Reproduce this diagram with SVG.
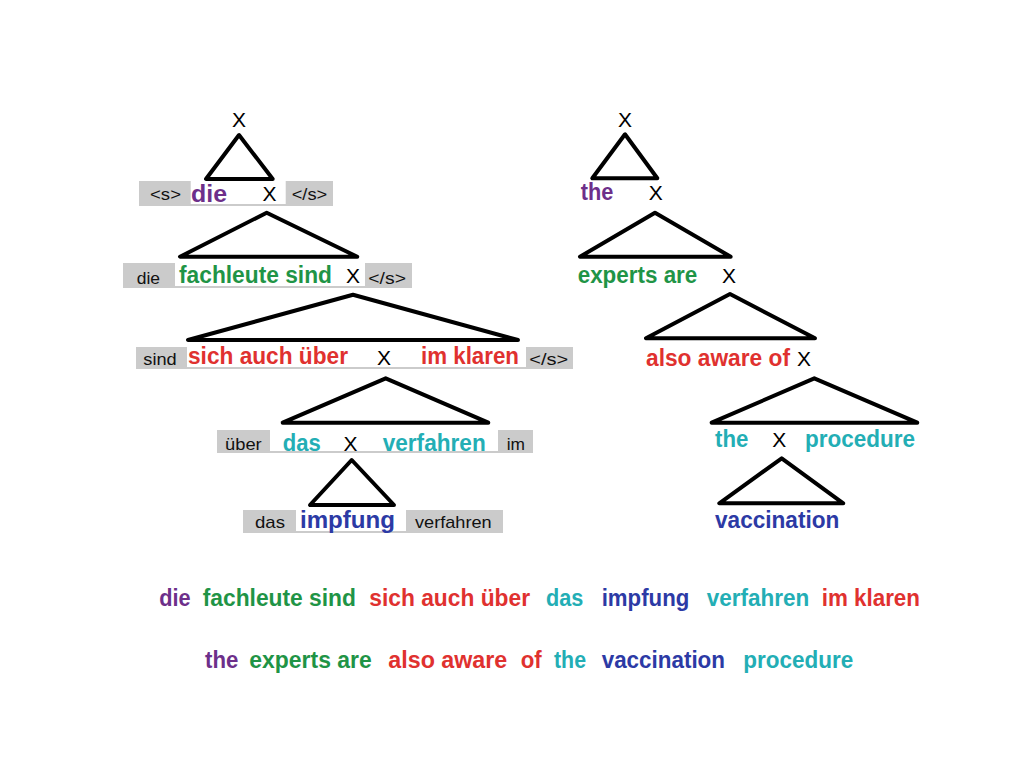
<svg xmlns="http://www.w3.org/2000/svg" width="1024" height="768" viewBox="0 0 1024 768">
<style>
.bg{fill:#ffffff}
.gbox{fill:#cbcbcb}
.wbox{fill:#ffffff}
.tri{fill:none;stroke:#000;stroke-width:4;stroke-linejoin:round;stroke-linecap:round}
.x{font-family:"Liberation Sans",Arial,sans-serif;font-size:21px;fill:#000;text-anchor:middle}
.g{font-family:"Liberation Sans",Arial,sans-serif;font-size:17px;fill:#111}
.b{font-family:"Liberation Sans",Arial,sans-serif;font-size:23px;font-weight:bold}
.pu{fill:#6d2f8a}.gr{fill:#1f9446}.rd{fill:#e0312f}.cy{fill:#23aeb5}.bl{fill:#2c3aa5}
</style>
<rect class="bg" x="0" y="0" width="1024" height="768"/>

<g id="connectors">
<polygon class="tri" points="239,135 206,179 272.7,179"/>
<polygon class="tri" points="266.7,212.7 180,256.7 357.3,256.7"/>
<polygon class="tri" points="353,294.7 188,340 518,340"/>
<polygon class="tri" points="385.7,378.3 282.7,422.7 488.3,422.7"/>
<polygon class="tri" points="351.7,460 310,505 394,505"/>
<polygon class="tri" points="625,134.3 592.3,178.3 657.3,178.3"/>
<polygon class="tri" points="655,212.7 580,256.7 730.7,256.7"/>
<polygon class="tri" points="730,294 646,338.3 815,338.3"/>
<polygon class="tri" points="814.3,378.3 711.7,422.7 917.3,422.7"/>
<polygon class="tri" points="781.7,458.3 719.3,503.3 843.3,503.3"/>
</g>

<g id="left-root">
<text class="x" x="239" y="127">X</text>
</g>

<g id="left-level1">
<rect class="gbox" x="139" y="181" width="194" height="25"/>
<rect class="wbox" x="190.7" y="181" width="95" height="23"/>
<text class="g" x="150" y="200" textLength="31" lengthAdjust="spacingAndGlyphs">&lt;s&gt;</text>
<text class="b pu" x="191" y="201.5" textLength="36" lengthAdjust="spacingAndGlyphs">die</text>
<text class="x" x="269.5" y="201">X</text>
<text class="g" x="291.7" y="200" textLength="35.6" lengthAdjust="spacingAndGlyphs">&lt;/s&gt;</text>
</g>

<g id="left-level2">
<rect class="gbox" x="123" y="263" width="289" height="25"/>
<rect class="wbox" x="175" y="263" width="190" height="23"/>
<text class="g" x="136.7" y="284" textLength="23.3" lengthAdjust="spacingAndGlyphs">die</text>
<text class="b gr" x="179" y="283" textLength="153" lengthAdjust="spacingAndGlyphs">fachleute sind</text>
<text class="x" x="353" y="283">X</text>
<text class="g" x="368.3" y="284" textLength="37.7" lengthAdjust="spacingAndGlyphs">&lt;/s&gt;</text>
</g>

<g id="left-level3">
<rect class="gbox" x="136" y="347" width="437" height="22"/>
<rect class="wbox" x="187" y="347" width="339" height="20"/>
<text class="g" x="143.3" y="365" textLength="33.4" lengthAdjust="spacingAndGlyphs">sind</text>
<text class="b rd" x="188" y="364" textLength="160" lengthAdjust="spacingAndGlyphs">sich auch über</text>
<text class="x" x="384" y="365">X</text>
<text class="b rd" x="421" y="364" textLength="98" lengthAdjust="spacingAndGlyphs">im klaren</text>
<text class="g" x="529.3" y="365" textLength="39" lengthAdjust="spacingAndGlyphs">&lt;/s&gt;</text>
</g>

<g id="left-level4">
<rect class="gbox" x="217" y="430" width="316" height="23"/>
<rect class="wbox" x="270" y="430" width="228" height="21"/>
<text class="g" x="225" y="450" textLength="36.7" lengthAdjust="spacingAndGlyphs">über</text>
<text class="b cy" x="282.7" y="450.5" textLength="38" lengthAdjust="spacingAndGlyphs">das</text>
<text class="x" x="350.5" y="451">X</text>
<text class="b cy" x="382.7" y="450.5" textLength="103" lengthAdjust="spacingAndGlyphs">verfahren</text>
<text class="g" x="506.7" y="450" textLength="18.3" lengthAdjust="spacingAndGlyphs">im</text>
</g>

<g id="left-level5">
<rect class="gbox" x="243" y="510" width="260" height="23"/>
<rect class="wbox" x="296" y="510" width="110" height="21"/>
<text class="g" x="255" y="528" textLength="30" lengthAdjust="spacingAndGlyphs">das</text>
<text class="b bl" x="300" y="528" textLength="95" lengthAdjust="spacingAndGlyphs">impfung</text>
<text class="g" x="415" y="528" textLength="76.7" lengthAdjust="spacingAndGlyphs">verfahren</text>
</g>

<g id="right-root">
<text class="x" x="625" y="126.7">X</text>
</g>

<g id="right-level1">
<text class="b pu" x="580.7" y="200" textLength="32.6" lengthAdjust="spacingAndGlyphs">the</text>
<text class="x" x="655.8" y="200">X</text>
</g>

<g id="right-level2">
<text class="b gr" x="577.7" y="283" textLength="119.6" lengthAdjust="spacingAndGlyphs">experts are</text>
<text class="x" x="729" y="283">X</text>
</g>

<g id="right-level3">
<text class="b rd" x="646" y="366" textLength="144" lengthAdjust="spacingAndGlyphs">also aware of</text>
<text class="x" x="804" y="366">X</text>
</g>

<g id="right-level4">
<text class="b cy" x="715" y="447.3" textLength="33.3" lengthAdjust="spacingAndGlyphs">the</text>
<text class="x" x="779.3" y="447.3">X</text>
<text class="b cy" x="805" y="447.3" textLength="110" lengthAdjust="spacingAndGlyphs">procedure</text>
</g>

<g id="right-level5">
<text class="b bl" x="715" y="528.3" textLength="124.3" lengthAdjust="spacingAndGlyphs">vaccination</text>
</g>

<g id="german-sentence">
<text class="b pu" x="159.3" y="606" textLength="31.4" lengthAdjust="spacingAndGlyphs">die</text>
<text class="b gr" x="202.7" y="606" textLength="153.3" lengthAdjust="spacingAndGlyphs">fachleute sind</text>
<text class="b rd" x="369.3" y="606" textLength="160.7" lengthAdjust="spacingAndGlyphs">sich auch über</text>
<text class="b cy" x="546" y="606" textLength="37.3" lengthAdjust="spacingAndGlyphs">das</text>
<text class="b bl" x="601.7" y="606" textLength="87.6" lengthAdjust="spacingAndGlyphs">impfung</text>
<text class="b cy" x="706.7" y="606" textLength="102.6" lengthAdjust="spacingAndGlyphs">verfahren</text>
<text class="b rd" x="821.7" y="606" textLength="98.3" lengthAdjust="spacingAndGlyphs">im klaren</text>
</g>

<g id="english-sentence">
<text class="b pu" x="205" y="668" textLength="33.3" lengthAdjust="spacingAndGlyphs">the</text>
<text class="b gr" x="249.3" y="668" textLength="122.4" lengthAdjust="spacingAndGlyphs">experts are</text>
<text class="b rd" x="388.3" y="668" textLength="119" lengthAdjust="spacingAndGlyphs">also aware</text>
<text class="b rd" x="520.7" y="668" textLength="21" lengthAdjust="spacingAndGlyphs">of</text>
<text class="b cy" x="554" y="668" textLength="32" lengthAdjust="spacingAndGlyphs">the</text>
<text class="b bl" x="601.7" y="668" textLength="123.3" lengthAdjust="spacingAndGlyphs">vaccination</text>
<text class="b cy" x="743.3" y="668" textLength="110" lengthAdjust="spacingAndGlyphs">procedure</text>
</g>
</svg>
